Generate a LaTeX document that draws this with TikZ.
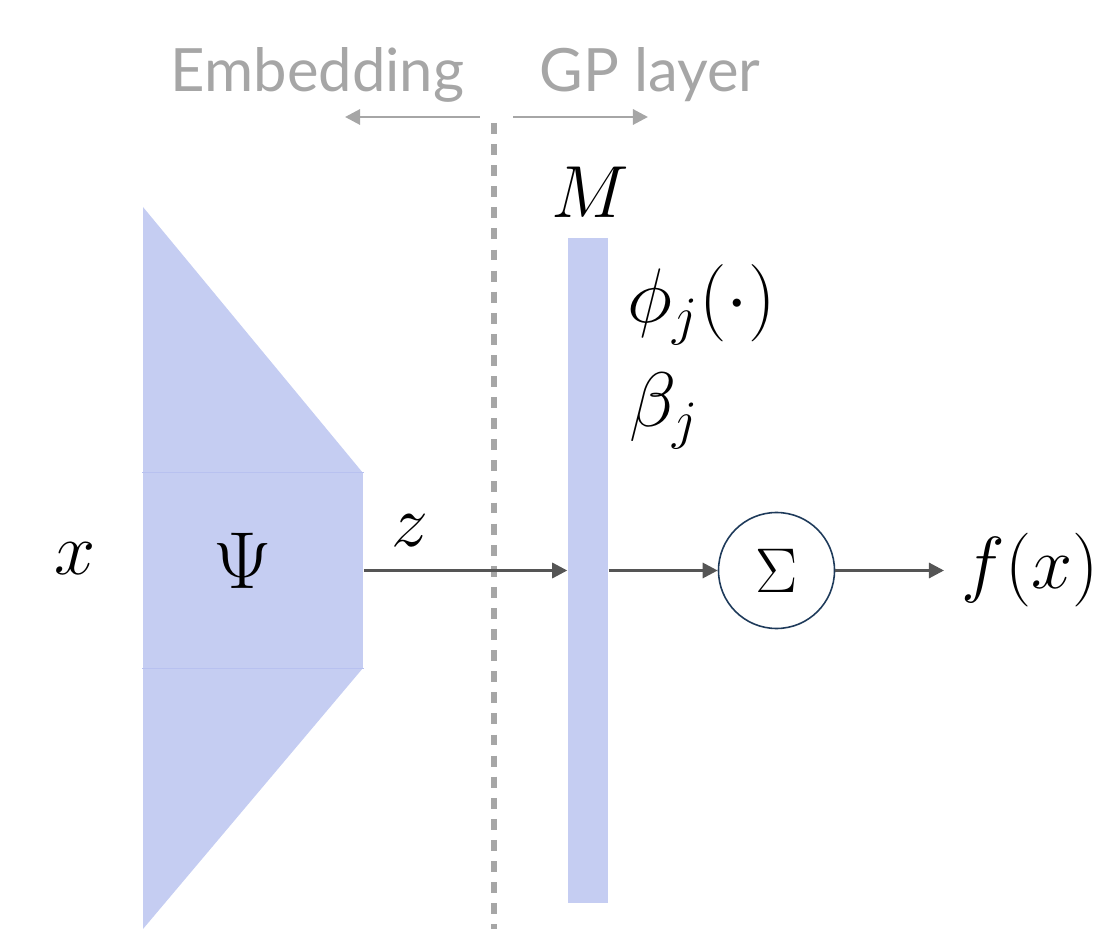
\RequirePackage{fix-cm}
\documentclass[tikz,border=0pt]{standalone}
\usepackage{fontspec}
\newfontfamily\headfont{Lato}
\usetikzlibrary{arrows.meta}
\definecolor{layerblue}{RGB}{197,205,242}
\definecolor{seamblue}{RGB}{184,193,240}
\definecolor{flowgray}{RGB}{85,85,85}
\definecolor{notegray}{RGB}{166,166,166}
\definecolor{sumnavy}{RGB}{30,58,90}
\begin{document}
\begin{tikzpicture}[
    flow/.style={draw=flowgray, line width=0.85pt, -{Triangle[length=4.3pt, width=4.3pt]}},
    note/.style={draw=notegray, line width=0.85pt, -{Triangle[length=4.3pt, width=4.3pt]}},
    head/.style={text=notegray, font=\headfont\fontsize{17}{20}\selectfont, anchor=base},
    sym/.style={inner sep=0pt, font=\fontsize{21}{25}\selectfont}]
    \useasboundingbox (0,0) rectangle (10.97,9.29);
    % Embedding network
    \fill[layerblue] (1.43,7.22) -- (3.63,4.56) -- (1.43,4.56) -- cycle;
    \fill[layerblue] (1.43,2.61) -- (3.63,2.61) -- (1.43,0) -- cycle;
    \node (psi) [fill=layerblue, minimum width=2.2cm, minimum height=1.95cm, inner sep=0pt] at (2.53,3.585) {};
    \draw[seamblue, line width=0.4pt] (psi.north west) -- (psi.north east);
    \draw[seamblue, line width=0.4pt] (psi.south west) -- (psi.south east);
    \node (psilabel) [sym, font=\fontsize{23}{27}\selectfont] at (2.43,3.68) {$\Psi$};
    \node (input) [sym] at (0.75,3.70) {$x$};
    \node (zlabel) [sym] at (4.095,3.985) {$z$};

    % Divider and headings
    \coordinate (divtop) at (4.94,8.06);
    \coordinate (divbot) at (4.94,0);
    \draw[notegray, line width=1.5pt, dash pattern=on 3.1pt off 2.9pt] (divtop) -- (divbot);
    \node (emb) [head] at (3.175,8.37) {Embedding};
    \node (gp) [head] at (6.50,8.37) {GP layer};
    \coordinate (embfrom) at (4.80,8.12);
    \coordinate (embto) at (3.45,8.12);
    \coordinate (gpfrom) at (5.13,8.12);
    \coordinate (gpto) at (6.48,8.12);
    \draw[note] (embfrom) -- (embto);
    \draw[note] (gpfrom) -- (gpto);

    % GP layer
    \node (bar) [fill=layerblue, minimum width=0.4cm, minimum height=6.65cm, inner sep=0pt] at (5.88,3.585) {};
    \node (mlabel) [sym] at (5.90,7.37) {$M$};
    \node (phi) [sym, font=\fontsize{22}{26}\selectfont, anchor=base west] at (6.27,6.065) {$\phi_j(\cdot)$};
    \node (beta) [sym, font=\fontsize{22}{26}\selectfont, anchor=base west] at (6.29,5.02) {$\beta_j$};
    \node (sum) [circle, draw=sumnavy, line width=0.45pt, minimum size=1.16cm, inner sep=0pt, font=\fontsize{18}{22}\selectfont] at (7.765,3.585) {$\Sigma$};
    \node (out) [sym, anchor=west] at (9.61,3.585) {$f(x)$};

    % Edges
    \draw[flow] (psi.east) -- (bar.west);
    \draw[flow] (bar.east) -- (sum);
    \draw[flow, shorten >=0.17cm] (sum) -- (out);
\end{tikzpicture}
\end{document}
